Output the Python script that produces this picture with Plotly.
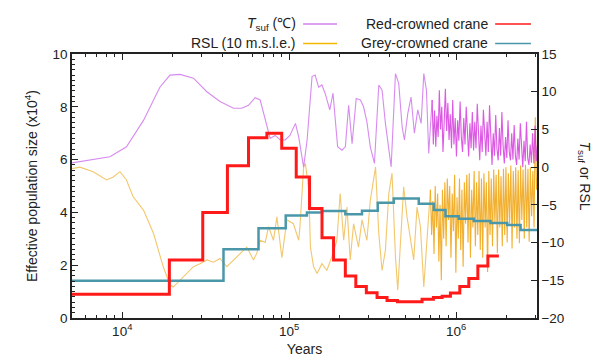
import math
import plotly.graph_objects as go

# ---------------- data (ages in kyr) ----------------
red_age_kyr = [5.0, 19.15, 30.35, 42.65, 57.05, 73.5, 90.2, 110.2, 132.4, 157.2, 184.4, 216.9,
               250.6, 289.8, 336.0, 385.5, 445.0, 625.0, 731.0, 824.0, 924.0, 1052, 1191,
               1349, 1549, 1803]
red_ne = [0.9, 2.2, 4.0, 5.77, 6.83, 7.0, 6.43, 5.34, 4.15, 3.04, 2.2, 1.59, 1.19, 0.96,
          0.78, 0.66, 0.62, 0.71, 0.78, 0.82, 0.95, 1.19, 1.5, 1.97, 2.35, 2.35]

grey_age_kyr = [5.0, 40.4, 65.5, 95.3, 127.7, 157.2, 216.9, 272.9, 339.0, 422.7, 597,
                734.5, 863, 1037, 1276, 1607, 2023, 2432, 3200]
grey_ne = [1.41, 2.6, 3.4, 3.88, 4.0, 4.05, 3.93, 4.06, 4.37, 4.53, 4.33, 4.09, 3.85,
           3.76, 3.67, 3.6, 3.52, 3.33, 3.33]

tsuf_age_kyr = [5.0, 8.44, 10.6, 13.4, 16.8, 19.3, 22.2, 26.7, 32.1, 38.5, 46.4, 52.0, 57.0,
                62.5, 67.0, 71.8, 76.9, 82.4, 88.3, 94.6, 101, 109, 114, 122, 128, 137, 143,
                150, 157, 164, 175, 183, 189, 195, 207, 217, 227, 238, 252, 267, 279, 292,
                306, 324, 344, 360, 377, 395, 408, 433, 453, 475, 490, 513, 537, 562, 589,
                617, 640, 664, 685,
                718, 730, 742, 755, 767, 780, 793, 806, 820, 834, 848, 862, 877, 892, 907,
                922, 938, 954, 970, 987, 1004, 1021, 1038, 1056, 1074, 1092, 1111, 1130,
                1149, 1169, 1188, 1209, 1229, 1250, 1272, 1293, 1315, 1338, 1361, 1384,
                1408, 1432, 1456, 1481, 1507, 1532, 1559, 1585, 1612, 1640, 1668, 1697,
                1726, 1755, 1785, 1816, 1847, 1879, 1911, 1943, 1977, 2011, 2045, 2080,
                2116, 2152, 2189, 2226, 2264, 2303, 2342, 2382, 2423, 2465, 2507, 2550,
                2593, 2638, 2683, 2729, 2775, 2823, 2871, 2920, 2970, 3020, 3070]
tsuf_c = [0.57, 1.37, 2.7, 6.2, 10.6, 12.2, 12.3, 11.8, 10.0, 8.7, 7.8, 7.8, 8.2,
          9.2, 8.9, 6.2, 3.8, 4.2, 3.6, 3.6, 4.2, 5.8, 4.0, 0.0, 3.6, 12.0, 12.2,
          10.6, 10.9, 9.8, 7.6, 9.8, 6.2, 2.7, 2.25, 2.7, 8.2, 3.1, 9.1, 8.9, 8.0, 6.0,
          2.7, 0.5, 10.9, 10.2, 5.8, 2.7, 0.04, 12.4, 11.1, 5.3, 3.6, 7.1, 9.3, 4.5, 7.6,
          5.8, 12.4, 10.2, 1.8,
          8.9, 3.0, 7.5, 2.7, 6.8, 4.0, 10.2, 5.0, 8.0, 2.0, 6.0, 10.4, 4.8, 8.5, 3.6,
          7.0, 2.5, 8.9, 3.0, 6.5, 1.4, 6.2, 3.5, 8.7, 4.0, 2.0, 6.5, 3.0,
          8.0, 3.5, 1.4, 5.8, 2.5, 7.3, 2.2, 6.0, 2.5, 8.4, 3.2, 0.9,
          5.5, 2.0, 7.6, 3.8, 1.5, 6.0, 2.0, 8.2, 3.0, 0.3, 4.5, 1.5,
          6.9, 2.5, 0.9, 5.2, 1.5, 7.3, 2.8, 0.5, 4.0, 1.2, 6.2, 2.0,
          0.9, 4.5, 1.0, 5.6, 1.5, 0.3, 3.8, 1.0, 5.8, 1.8, 0.0, 3.5,
          0.8, 6.0, 1.2, 0.3, 3.0, 0.6, 4.5, 0.5, 5.5, 0.8, 3.0]

rsl_age_kyr = [5.0, 5.57, 6.70, 8.06, 8.83, 9.69, 10.6, 11.6, 13.4, 15.4, 17.6, 19.3, 20.2,
               22.2, 24.3, 26.7, 29.2, 32.1, 35.2, 38.5, 42.3, 46.4, 50.8, 55.7, 61.1, 64.0,
               67.0, 71.8, 75.2, 80.5, 84.4, 90.4, 96.8, 106, 114, 116, 122, 125, 131, 134,
               140, 147, 157, 168, 180, 193, 202, 212, 222, 232, 243, 260, 273, 292, 306,
               329, 344, 360, 377, 395, 413, 433, 447, 463, 485, 508, 532, 557, 583, 611,
               640, 671,
               701, 713, 725, 737, 749, 762, 775, 788, 801, 815, 828, 842, 856, 871, 885,
               900, 915, 931, 947, 963, 979, 996, 1012, 1030, 1047, 1065, 1083, 1101, 1120,
               1139, 1158, 1178, 1198, 1218, 1239, 1260, 1282, 1304, 1326, 1348, 1371,
               1395, 1418, 1442, 1467, 1492, 1517, 1543, 1569, 1596, 1623, 1651, 1679,
               1707, 1736, 1766, 1796, 1826, 1857, 1889, 1921, 1954, 1987, 2021, 2055,
               2090, 2126, 2162, 2199, 2236, 2274, 2313, 2352, 2392, 2433, 2474, 2516,
               2559, 2602, 2647, 2692, 2738, 2784, 2832, 2880, 2929, 2979, 3030, 3080]
rsl_10m = [-0.2, 0.0, -0.6, -1.7, -1.3, -0.6, -1.7, -3.9, -5.7, -8.8, -13.2, -15.6, -15.9,
           -15.0, -14.1, -13.2, -12.8, -12.3, -12.6, -12.1, -13.2, -12.3, -11.4, -10.6,
           -12.3, -11.4, -9.7, -10.0, -7.9, -9.7, -6.6, -12.0, -7.0, -7.5, -9.7, -7.9,
           0.0, 0.5, -3.0, -10.6, -13.2, -14.1, -12.8, -13.7, -11.9, -9.7, -3.5, -9.7,
           -5.3, -12.3, -7.5, -10.6, -7.0, -9.7, -4.4, 0.0, -8.8, -13.7, -11.0, -3.5,
           -0.8, -11.9, -16.3, -10.6, -2.6, -6.6, -9.7, -12.3, -5.3, -7.9, -15.9, -9.7,
           -3.0, -9.0, -4.5, -11.5, -2.5, -8.0, -3.5, -12.5, -5.0, -15.0, -3.0, -9.5,
           -2.0, -10.5, -1.5, -7.0, -2.5, -12.0, -3.5, -8.5, -1.0, -14.0, -4.0, -9.5,
           -1.5, -11.0, -3.0, -13.2, -2.0, -7.5, -1.0, -10.0, -0.8, -12.0, -3.0, -8.0,
           -0.5, -10.5, -2.0, -9.0, -0.5, -11.0, -1.5, -12.0, -0.8, -8.0, -2.0, -13.9,
           -0.5, -9.0, -1.5, -10.5, -0.3, -7.5, -1.0, -11.4, -0.3, -8.0, -1.2, -10.5,
           -0.2, -9.0, 0.0, -10.0, -0.8, -7.5, 0.2, -10.8, -0.5, -8.0, 0.0, -9.5,
           -0.4, -10.1, 0.2, -7.0, -0.3, -9.5, 0.3, -8.0, -0.2, -9.9, 0.0, -6.5,
           -0.5, -8.0, 6.6, -3.0, -1.0]

x_tick_vals = [1e4, 1e5, 1e6]
x_tick_text = ["10<sup>4</sup>", "10<sup>5</sup>", "10<sup>6</sup>"]
left_ticks = [0, 2, 4, 6, 8, 10]
right_ticks = [-20, -15, -10, -5, 0, 5, 10, 15]

def yrs(lst):
    return [k * 1000 for k in lst]

FONT = "Arial, Liberation Sans, sans-serif"
AX = "#222222"
TSUF_LIGHT = "rgba(205,110,235,0.8)"
TSUF_DENSE = "rgba(214,60,222,0.85)"
RSL_LIGHT = "rgba(238,180,60,0.75)"
RSL_DENSE = "rgba(240,162,12,0.85)"
RED_COL = "#ff1a1a"
GREY_COL = "#4b97aa"

# split each climate record where its dense (older) part begins
i_t = next(i for i, a in enumerate(tsuf_age_kyr) if a >= 700)
i_r = next(i for i, a in enumerate(rsl_age_kyr) if a >= 700)

fig = go.Figure()
for xs, ys, col in [
    (rsl_age_kyr[:i_r + 1], rsl_10m[:i_r + 1], RSL_LIGHT),
    (rsl_age_kyr[i_r:], rsl_10m[i_r:], RSL_DENSE),
    (tsuf_age_kyr[:i_t + 1], tsuf_c[:i_t + 1], TSUF_LIGHT),
    (tsuf_age_kyr[i_t:], tsuf_c[i_t:], TSUF_DENSE),
]:
    fig.add_trace(go.Scatter(x=yrs(xs), y=ys, mode="lines", yaxis="y",
                             line=dict(color=col, width=1.1), showlegend=False))

fig.add_trace(go.Scatter(x=yrs(grey_age_kyr), y=grey_ne, mode="lines", yaxis="y2",
                         line=dict(color=GREY_COL, width=2.5, shape="hv"), showlegend=False))
fig.add_trace(go.Scatter(x=yrs(red_age_kyr), y=red_ne, mode="lines", yaxis="y2",
                         line=dict(color=RED_COL, width=3, shape="hv"), showlegend=False))

minor_x = [m * 10 ** e for e in (3, 4, 5, 6) for m in range(2, 10)]

fig.update_layout(
    width=593, height=357,
    margin=dict(l=72, r=56, t=54, b=39, autoexpand=False),
    paper_bgcolor="white", plot_bgcolor="white",
    font=dict(family=FONT, size=14, color=AX),
    xaxis=dict(type="log", range=[math.log10(5000), math.log10(3.05e6)],
               tickmode="array", tickvals=x_tick_vals, ticktext=x_tick_text,
               ticks="inside", ticklen=6, tickcolor=AX, tickwidth=1,
               showline=True, linecolor=AX, linewidth=1.5, mirror="ticks",
               showgrid=False, zeroline=False, automargin=False,
               minor=dict(tickmode="array", tickvals=minor_x, ticks="inside",
                          ticklen=3, tickcolor=AX, showgrid=False),
               title=dict(text="Years", font=dict(size=14), standoff=8),
               tickfont=dict(size=13.5)),
    yaxis=dict(side="right", range=[-20, 15], tickmode="array", tickvals=right_ticks,
               ticks="inside", ticklen=6, tickcolor=AX, showline=True, linecolor=AX,
               linewidth=1.5, showgrid=False, zeroline=False, automargin=False,
               tickfont=dict(size=13.5)),
    yaxis2=dict(side="left", overlaying="y", range=[0, 10], tickmode="array",
                tickvals=left_ticks, ticks="inside", ticklen=6, tickcolor=AX,
                showline=True, linecolor=AX, linewidth=1.5, showgrid=False,
                zeroline=False, automargin=False, tickfont=dict(size=13.5),
                minor=dict(dtick=0.2, ticks="inside", ticklen=3, tickcolor=AX, showgrid=False),
                title=dict(text="Effective population size (x10<sup>4</sup>)",
                           font=dict(size=14), standoff=12)),
)

# right axis title (reads top to bottom)
fig.add_annotation(xref="paper", yref="paper", x=1.0, xshift=47, y=0.54,
                   xanchor="center", yanchor="middle",
                   text="<i>T</i><sub>suf</sub> or RSL", textangle=90, showarrow=False,
                   font=dict(size=14, color=AX))

# legend drawn as text + sample lines
legend_items = [
    ("<i>T</i><sub>suf</sub> (℃)", "#cf7ff0", 0.486, 1.114, 0.497, 0.570),
    ("RSL (10 m.s.l.e.)", "#f5b800", 0.486, 1.040, 0.497, 0.570),
    ("Red-crowned crane", RED_COL, 0.899, 1.114, 0.910, 0.987),
    ("Grey-crowned crane", GREY_COL, 0.899, 1.040, 0.910, 0.987),
]
for label, col, tx, ty, lx0, lx1 in legend_items:
    fig.add_annotation(xref="paper", yref="paper", x=tx, y=ty, text=label, showarrow=False,
                       xanchor="right", yanchor="middle", font=dict(size=14, color=AX))
    fig.add_shape(type="line", xref="paper", yref="paper", x0=lx0, x1=lx1, y0=ty, y1=ty,
                  line=dict(color=col, width=1.5))

fig.write_html("out.html", config={"displayModeBar": False},
               post_script="document.body.style.margin='0';document.body.style.padding='0';")
